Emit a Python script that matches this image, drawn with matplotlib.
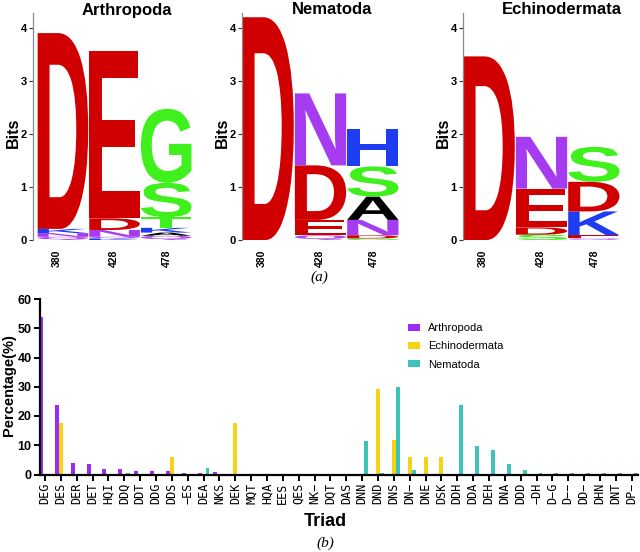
import matplotlib
matplotlib.use("Agg")
import matplotlib.pyplot as plt
from matplotlib.textpath import TextPath
from matplotlib.patches import PathPatch
from matplotlib.font_manager import FontProperties
from matplotlib.transforms import Affine2D
import numpy as np

# ---------------- data: sequence logos (letters bottom -> top, bits) ----------------
positions = ["380", "428", "478"]

arth_380_letters = ["Q", "N", "K", "D"]
arth_380_bits = [0.06, 0.07, 0.08, 3.70]
arth_428_letters = ["K", "Q", "N", "D", "E"]
arth_428_bits = [0.03, 0.03, 0.13, 0.22, 3.17]
arth_478_letters = ["Q", "A", "K", "T", "S", "G"]
arth_478_bits = [0.08, 0.06, 0.09, 0.20, 0.65, 1.40]

nema_380_letters = ["D"]
nema_380_bits = [4.21]
nema_428_letters = ["Q", "E", "D", "N"]
nema_428_bits = [0.09, 0.29, 1.03, 1.36]
nema_478_letters = ["G", "D", "N", "A", "S", "H"]
nema_478_bits = [0.03, 0.06, 0.29, 0.44, 0.57, 0.71]

echi_380_letters = ["D"]
echi_380_bits = [3.47]
echi_428_letters = ["S", "D", "E", "N"]
echi_428_bits = [0.10, 0.14, 0.73, 0.98]
echi_478_letters = ["Q", "E", "K", "D", "S"]
echi_478_bits = [0.03, 0.06, 0.45, 0.56, 0.66]

logo_titles = ["Arthropoda", "Nematoda", "Echinodermata"]

# ---------------- data: triad percentages ----------------
triads = ["DEG", "DES", "DER", "DET", "HQI", "DDQ", "DDT", "DDG", "DDS", "−ES",
          "DEA", "NKS", "DEK", "MQT", "HQA", "EES", "QES", "NK−", "DQT", "DAS",
          "DNN", "DND", "DNS", "DN−", "DNE", "DSK", "DDH", "DDA", "DEH", "DNA",
          "DDD", "−DH", "D−G", "D−−", "DD−", "DHN", "DNT", "DP−"]
arthropoda = [53.9, 23.8, 4.0, 3.6, 1.8, 1.8, 1.2, 1.2, 1.2, 0.6,
              0.6, 0.7, 0.3, 0.3, 0.3, 0.3, 0.3, 0.3, 0.3, 0.3,
              0.3, 0, 0, 0, 0, 0, 0, 0, 0, 0,
              0, 0, 0, 0, 0, 0, 0, 0]
echinodermata = [0, 17.6, 0, 0, 0, 0, 0, 0, 5.9, 0,
                 0, 0, 17.6, 0, 0, 0, 0, 0, 0, 0,
                 0, 29.4, 11.8, 5.9, 5.9, 5.9, 0, 0, 0, 0,
                 0, 0, 0, 0, 0, 0, 0, 0]
nematoda = [0, 0, 0, 0, 0, 0.5, 0, 0, 0, 0,
            2.2, 0, 0, 0, 0, 0, 0, 0, 0, 0,
            11.5, 0.5, 29.9, 1.5, 0, 0, 23.9, 9.8, 8.3, 3.5,
            1.5, 0.5, 0.5, 0.5, 0.5, 0.5, 0.5, 0.5]
series_names = ["Arthropoda", "Echinodermata", "Nematoda"]

# ---------------- styles ----------------
letter_colors = {"D": "#D10000", "E": "#D10000",
                 "N": "#A63CF2", "Q": "#B04AE8",
                 "G": "#3FF01C", "S": "#3FF01C", "T": "#3FF01C",
                 "H": "#1E3CF2", "K": "#1E3CF2", "R": "#1E3CF2",
                 "A": "#000000"}
bar_colors = ["#9B2CF5", "#F5D316", "#3CC3BA"]

logo_font = FontProperties(family="Liberation Sans", weight="bold")
plt.rcParams["font.family"] = ["Liberation Sans", "DejaVu Sans"]

W, H = 640, 552
fig = plt.figure(figsize=(W / 100, H / 100), dpi=100)


def draw_letter(ax, letter, x0, y0, w, h, color):
    tp = TextPath((0, 0), letter, size=1, prop=logo_font)
    ext = tp.get_extents()
    tr = (Affine2D().translate(-ext.x0, -ext.y0)
          .scale(w / ext.width, h / ext.height)
          .translate(x0, y0) + ax.transData)
    ax.add_patch(PathPatch(tp, transform=tr, facecolor=color, edgecolor="none"))


def draw_column(ax, xi, letters, bits):
    y = 0.0
    for L, b in zip(letters, bits):
        draw_letter(ax, L, xi - 0.49, y, 0.98, b, letter_colors[L])
        y += b


logo_sets = [
    [(arth_380_letters, arth_380_bits), (arth_428_letters, arth_428_bits), (arth_478_letters, arth_478_bits)],
    [(nema_380_letters, nema_380_bits), (nema_428_letters, nema_428_bits), (nema_478_letters, nema_478_bits)],
    [(echi_380_letters, echi_380_bits), (echi_428_letters, echi_428_bits), (echi_478_letters, echi_478_bits)],
]
logo_left_px = [33, 242, 463]
logo_width_px = [159, 157, 157]
logo_xlim = [(-0.58, 2.5), (-0.5, 2.5), (-0.5, 2.5)]
title_x_px = [127, 332, 562]

for k in range(3):
    ax = fig.add_axes([logo_left_px[k] / W, 1 - 240 / H, logo_width_px[k] / W, 227 / H])
    for i, (lets, bts) in enumerate(logo_sets[k]):
        draw_column(ax, i, lets, bts)
    ax.set_xlim(*logo_xlim[k])
    ax.set_ylim(0, 4.29)
    for s in ["top", "right", "bottom"]:
        ax.spines[s].set_visible(False)
    ax.spines["left"].set_color("#8a8a8a")
    ax.spines["left"].set_linewidth(0.9)
    ax.set_yticks([0, 1, 2, 3, 4])
    ax.set_yticklabels(["0", "1", "2", "3", "4"], fontsize=8, fontweight="bold")
    ax.tick_params(axis="y", length=3, width=0.8, pad=1.5, color="#333333")
    ax.set_xticks([-0.12, 0.98, 2.02])
    ax.set_xticklabels(positions, rotation=90, fontsize=7.5, fontweight="bold")
    ax.tick_params(axis="x", length=0, pad=7)
    fig.text((logo_left_px[k] - 20) / W, 1 - 133 / H, "Bits", rotation=90,
             ha="center", va="center", fontsize=11.5, fontweight="bold")
    fig.text(title_x_px[k] / W, 1 - 10 / H, logo_titles[k], ha="center", va="center",
             fontsize=12, fontweight="bold")

fig.text(319 / W, 1 - 277 / H, "(a)", ha="center", va="center", fontsize=11,
         family="Liberation Serif", style="italic")

# ---------------- bar chart ----------------
axb = fig.add_axes([40 / W, 1 - 474.5 / H, 598 / W, 175.5 / H])
x = np.arange(len(triads))
bw = 0.25
for off, vals, col, name in zip([-0.25, 0.0, 0.25], [arthropoda, echinodermata, nematoda],
                                bar_colors, series_names):
    axb.bar(x + off, vals, bw, color=col, label=name, linewidth=0)
axb.set_xlim(-0.315, 37.4)
axb.set_ylim(0, 60)
axb.set_yticks(range(0, 61, 10))
axb.set_yticklabels([str(v) for v in range(0, 61, 10)], fontsize=9, fontweight="bold")
axb.set_xticks(x)
axb.set_xticklabels(triads, rotation=90, fontsize=8.5, family="DejaVu Sans Mono")
for s in ["top", "right"]:
    axb.spines[s].set_visible(False)
for s in ["left", "bottom"]:
    axb.spines[s].set_linewidth(1.6)
axb.tick_params(axis="both", length=4, width=1.4, pad=2)
fig.text(9 / W, 1 - 385 / H, "Percentage(%)", rotation=90, ha="center", va="center",
         fontsize=10.5, fontweight="bold")
fig.text(325 / W, 1 - 522 / H, "Triad", ha="center", va="center", fontsize=13, fontweight="bold")
fig.text(325 / W, 1 - 543 / H, "(b)", ha="center", va="center", fontsize=11,
         family="Liberation Serif", style="italic")

leg = axb.legend(loc="upper left", bbox_to_anchor=(408 / W, 1 - 323 / H),
                 bbox_transform=fig.transFigure, frameon=False, fontsize=8,
                 handlelength=1.1, handleheight=0.6, handletextpad=0.7, labelspacing=0.75,
                 borderpad=0, borderaxespad=0)

fig.savefig("out.png", dpi=100)
